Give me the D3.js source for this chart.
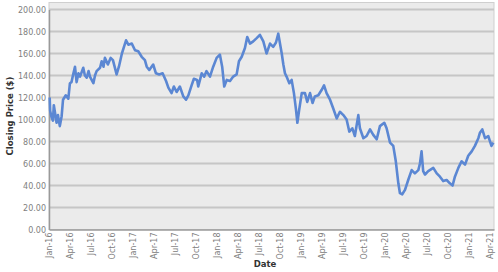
<!DOCTYPE html>
<html>
<head>
<meta charset="utf-8">
<script src="https://cdn.jsdelivr.net/npm/d3@7"></script>
<style>
  html, body { margin: 0; padding: 0; background: #ffffff; }
  svg { display: block; }
</style>
</head>
<body>
<svg id="chart" width="498" height="272"></svg>
<script>
// ---- data ----
const dates = [
"2016-01-04","2016-01-06","2016-01-12","2016-01-18","2016-01-22","2016-02-03","2016-02-09","2016-02-17","2016-02-25","2016-03-02",
"2016-03-14","2016-03-25","2016-04-01","2016-04-08","2016-04-14","2016-04-23","2016-04-30","2016-05-08","2016-05-15","2016-05-29",
"2016-06-05","2016-06-13","2016-06-21","2016-06-27","2016-07-12","2016-07-19","2016-07-26","2016-08-10","2016-08-17","2016-08-25",
"2016-08-31","2016-09-13","2016-09-25","2016-10-05","2016-10-21","2016-10-31","2016-11-13","2016-11-22","2016-12-01","2016-12-11",
"2016-12-26","2017-01-09","2017-01-23","2017-02-07","2017-02-21","2017-03-01","2017-03-12","2017-03-29","2017-04-10","2017-04-24",
"2017-05-09","2017-05-24","2017-06-03","2017-06-17","2017-06-27","2017-07-09","2017-07-23","2017-08-07","2017-08-19","2017-08-29",
"2017-09-12","2017-09-22","2017-10-06","2017-10-11","2017-10-26","2017-11-06","2017-11-16","2017-12-01","2017-12-15","2017-12-30",
"2018-01-13","2018-01-23","2018-02-01","2018-02-12","2018-02-26","2018-03-12","2018-03-27","2018-04-06","2018-04-18","2018-05-02",
"2018-05-12","2018-05-24","2018-06-07","2018-06-22","2018-07-06","2018-07-21","2018-08-04","2018-08-19","2018-09-02","2018-09-14",
"2018-09-24","2018-10-09","2018-10-16","2018-10-23","2018-10-30","2018-11-11","2018-11-21","2018-12-01","2018-12-10","2018-12-16",
"2018-12-24","2019-01-04","2019-01-18","2019-01-28","2019-02-09","2019-02-20","2019-03-02","2019-03-17","2019-04-01","2019-04-11",
"2019-04-22","2019-05-07","2019-05-21","2019-06-05","2019-06-19","2019-07-04","2019-07-18","2019-07-30","2019-08-12","2019-08-23",
"2019-09-07","2019-09-14","2019-09-29","2019-10-13","2019-10-28","2019-11-11","2019-11-26","2019-12-10","2019-12-29","2020-01-08",
"2020-01-23","2020-02-06","2020-02-17","2020-02-28","2020-03-06","2020-03-16","2020-03-28","2020-04-11","2020-04-26","2020-05-10",
"2020-05-25","2020-06-01","2020-06-08","2020-06-15","2020-06-23","2020-07-07","2020-07-29","2020-08-13","2020-08-27","2020-09-10",
"2020-09-25","2020-10-09","2020-10-21","2020-10-31","2020-11-15","2020-11-29","2020-12-14","2020-12-28","2021-01-12","2021-01-26",
"2021-02-10","2021-02-17","2021-02-27","2021-03-11","2021-03-25","2021-04-08","2021-04-16"
];
const closingPrice = [
120,108,102,99,113,97,104,94,103,118,
122,119,133,134,140,148,134,142,139,147,
140,138,144,139,133,140,144,147,153,148,
156,150,156,154,141,148,160,166,172,168,
169,163,162,157,154,148,145,150,142,141,
142,135,129,124,130,125,130,121,118,122,
131,137,136,130,142,139,144,139,148,156,
159,148,130,136,135,139,141,153,157,165,
175,169,171,174,177,171,160,169,166,170,
178,160,150,142,139,133,136,124,109,97,
109,124,124,116,124,115,121,122,127,131,
124,118,110,101,107,104,100,89,92,85,
104,92,83,85,91,86,82,94,97,92,
79,76,62,42,33,32,36,45,54,51,
54,60,71,53,50,53,56,51,48,44,
45,42,40,48,56,62,59,67,71,76,
83,88,91,83,85,76,79
];
const yTicks = [0, 20, 40, 60, 80, 100, 120, 140, 160, 180, 200];
const xTickLabels = ["Jan-16","Apr-16","Jul-16","Oct-16","Jan-17","Apr-17","Jul-17","Oct-17","Jan-18","Apr-18","Jul-18","Oct-18",
                     "Jan-19","Apr-19","Jul-19","Oct-19","Jan-20","Apr-20","Jul-20","Oct-20","Jan-21","Apr-21"];
const yTitle = "Closing Price ($)";
const xTitle = "Date";

// ---- layout ----
const svg = d3.select("#chart");
const plotLeft = 49, plotRight = 494, plotTop = 2.5, plotBottom = 229.5;
const parse = d3.timeParse("%Y-%m-%d");
const fmtTick = d3.timeFormat("%b-%y");
const data = dates.map((d, i) => ({ date: parse(d), value: closingPrice[i] }));

const x = d3.scaleTime()
  .domain([parse("2016-01-01"), parse("2021-04-19")])
  .range([plotLeft, plotRight]);
const y = d3.scaleLinear().domain([0, 200]).range([plotBottom, 9.5]);

const tickDates = xTickLabels.map(s => d3.timeParse("%b-%y")(s));

// plot background
svg.append("rect")
  .attr("x", plotLeft).attr("y", plotTop)
  .attr("width", plotRight - plotLeft).attr("height", plotBottom - plotTop)
  .attr("fill", "#ebebeb")
  .attr("stroke", "#cfcfcf").attr("stroke-width", 1);

// gridlines
svg.append("g")
  .selectAll("line")
  .data(yTicks.filter(v => v > 0))
  .join("line")
  .attr("x1", plotLeft).attr("x2", plotRight)
  .attr("y1", d => y(d)).attr("y2", d => y(d))
  .attr("stroke", "#c6c6c6").attr("stroke-width", 2);

// y axis
const yAxis = svg.append("g")
  .attr("transform", `translate(${plotLeft},0)`)
  .call(d3.axisLeft(y).tickValues(yTicks).tickSize(0).tickPadding(3).tickFormat(d3.format(".2f")));
yAxis.select(".domain").attr("stroke", "#9a9a9a").attr("stroke-width", 1.5);
yAxis.selectAll("text")
  .attr("fill", "#808080")
  .style("font-family", "'DejaVu Sans', Verdana, sans-serif")
  .style("font-size", "8px");

// x axis
const xAxis = svg.append("g")
  .attr("transform", `translate(0,${plotBottom})`)
  .call(d3.axisBottom(x).tickValues(tickDates).tickSize(0).tickFormat(fmtTick));
xAxis.select(".domain").attr("stroke", "#9a9a9a").attr("stroke-width", 1.5);
xAxis.selectAll("text")
  .attr("fill", "#808080")
  .style("font-family", "'DejaVu Sans', Verdana, sans-serif")
  .style("font-size", "8px")
  .attr("text-anchor", "end")
  .attr("dy", "0.32em")
  .attr("transform", "translate(0,3) rotate(-90)")
  .attr("x", 0).attr("y", 0);

// line
const line = d3.line()
  .x(d => x(d.date))
  .y(d => y(d.value));
svg.append("path")
  .datum(data)
  .attr("d", line)
  .attr("fill", "none")
  .attr("stroke", "#5b87d3")
  .attr("stroke-width", 2.6)
  .attr("stroke-linejoin", "round");

// axis titles
svg.append("text")
  .attr("transform", `translate(13,${(plotTop + plotBottom) / 2}) rotate(-90)`)
  .attr("text-anchor", "middle")
  .attr("fill", "#333")
  .style("font-family", "'DejaVu Sans', Verdana, sans-serif")
  .style("font-weight", "bold")
  .style("font-size", "8.5px")
  .text(yTitle);

svg.append("text")
  .attr("x", 265).attr("y", 267)
  .attr("text-anchor", "middle")
  .attr("fill", "#333")
  .style("font-family", "'DejaVu Sans', Verdana, sans-serif")
  .style("font-weight", "bold")
  .style("font-size", "8.5px")
  .text(xTitle);
</script>
</body>
</html>
